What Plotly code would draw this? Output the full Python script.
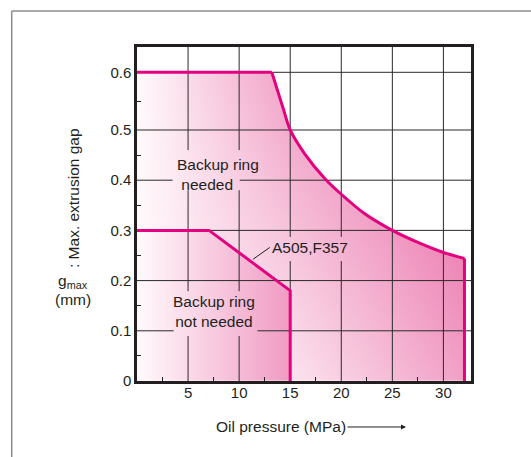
import numpy as np
import plotly.graph_objects as go

# ---------------- data ----------------
pressure_upper = [0, 13.2, 13.8, 14.3, 15, 16.4, 18.4, 20, 22.3, 25, 27.5, 30, 32.06]
gap_upper = [0.6, 0.6, 0.566, 0.538, 0.5, 0.453, 0.403, 0.372, 0.333, 0.300, 0.276, 0.256, 0.244]
pressure_lower = [0, 7.05, 15]
gap_lower = [0.3, 0.3, 0.18]
x_ticks = [5, 10, 15, 20, 25, 30]
x_minor = [2.5, 7.5, 12.5, 17.5, 22.5, 27.5]
y_ticks = [0, 0.1, 0.2, 0.3, 0.4, 0.5, 0.6]
y_tick_labels = ["0", "0.1", "0.2", "0.3", "0.4", "0.5", "0.6"]
y_minor = [0.05, 0.15, 0.25, 0.35, 0.45, 0.55]

# ---------------- style ----------------
PINK = "#e4007f"
INK = "#231f20"
FONT = "Liberation Sans, Arial, Helvetica, sans-serif"
X_MAX = 32.7


def ydisp(v):
    """The printed chart stretches the 0.5-0.6 band slightly; reproduce that scale."""
    v = np.asarray(v, dtype=float)
    return np.where(v <= 0.5, v, 0.5 + (v - 0.5) * 1.149)


Y_MAX = 0.6653

fig = go.Figure()

# ---------------- gradient fills (heatmap masked to the regions) ----------------
xs = np.arange(0.05, X_MAX, 0.1)
ys = np.arange(0.001, Y_MAX, 0.002)
X, Y = np.meshgrid(xs, ys)
up_d = ydisp(gap_upper)
upper = np.interp(X, pressure_upper, up_d)
low_line = np.interp(X, pressure_lower, gap_lower)
x_end = pressure_upper[-1]
x_low_end = pressure_lower[-1]
lower = np.where(X <= x_low_end, low_line, 0.0)

Z = np.full(X.shape, np.nan)
band = (X <= x_end) & (Y <= upper) & (Y >= lower)
t_band = np.minimum(1, X / 15) * (0.2 + Y) + np.maximum(0, (X - 15) / 17) * 0.6
Z[band] = np.clip(t_band[band], 0, 1)
regA = (X <= x_low_end) & (Y < low_line)
Z[regA] = 0.85 * X[regA] / x_low_end

fig.add_trace(go.Heatmap(
    x=xs, y=ys, z=Z, zmin=0, zmax=1, showscale=False, hoverinfo="skip",
    colorscale=[[0, "#fffafc"], [1, "#ee8ab9"]], zsmooth=False,
))

# ---------------- grid lines (with gaps around the labels) ----------------
gap_rects = [  # x0, x1, y0, y1 (display units)
    (3.30, 12.20, 0.406, 0.460),
    (3.49, 10.06, 0.380, 0.416),
    (3.00, 12.20, 0.129, 0.179),
    (3.59, 11.80, 0.0896, 0.137),
    (12.79, 21.0, 0.239, 0.287),
]


def cut(lo, hi, holes):
    segs = [(lo, hi)]
    for a, b in holes:
        new = []
        for s, e in segs:
            if b <= s or a >= e:
                new.append((s, e))
            else:
                if a > s:
                    new.append((s, a))
                if b < e:
                    new.append((b, e))
        segs = new
    return segs


gx, gy = [], []
for v in x_ticks:
    holes = [(r[2], r[3]) for r in gap_rects if r[0] <= v <= r[1]]
    for s, e in cut(0, Y_MAX, holes):
        gx += [v, v, None]
        gy += [s, e, None]
for v in y_ticks[1:]:
    yd = float(ydisp(v))
    holes = [(r[0], r[1]) for r in gap_rects if r[2] <= yd <= r[3]]
    for s, e in cut(0, X_MAX, holes):
        gx += [s, e, None]
        gy += [yd, yd, None]
fig.add_trace(go.Scatter(x=gx, y=gy, mode="lines", line=dict(color="#2a2a2a", width=1),
                         hoverinfo="skip", showlegend=False))

# ---------------- boundary lines ----------------
fig.add_trace(go.Scatter(x=pressure_upper[:2], y=ydisp(gap_upper[:2]), mode="lines",
                         line=dict(color=PINK, width=3), hoverinfo="skip", showlegend=False))
fig.add_trace(go.Scatter(x=pressure_upper[1:], y=ydisp(gap_upper[1:]), mode="lines",
                         line=dict(color=PINK, width=3, shape="spline", smoothing=0.8),
                         hoverinfo="skip", showlegend=False))
fig.add_trace(go.Scatter(x=[x_end, x_end], y=[float(ydisp(gap_upper[-1])), 0], mode="lines",
                         line=dict(color=PINK, width=3), hoverinfo="skip", showlegend=False))
fig.add_trace(go.Scatter(x=pressure_lower + [x_low_end], y=list(ydisp(gap_lower)) + [0], mode="lines",
                         line=dict(color=PINK, width=3), hoverinfo="skip", showlegend=False))

# ---------------- annotations ----------------
tf = dict(family=FONT, size=15.5, color=INK)
ann = [
    dict(x=3.75, y=0.412, xref="x", yref="y", text="Backup ring<br> needed", showarrow=False,
         font=tf, align="left", xanchor="left", yanchor="middle"),
    dict(x=7.55, y=0.139, xref="x", yref="y", text="Backup ring<br>not needed", showarrow=False,
         font=tf, align="center", xanchor="center", yanchor="middle"),
    dict(x=11.35, y=0.2424, xref="x", yref="y", ax=13.0, ay=0.266, axref="x", ayref="y",
         text="A505,F357", showarrow=True, arrowhead=0, arrowwidth=1, arrowcolor=INK,
         xanchor="left", yanchor="middle", font=tf, standoff=0, startstandoff=0),
    # x-axis title with its arrow pointing right
    dict(x=0.8054, y=-0.1377, xref="paper", yref="paper", text="Oil pressure (MPa)",
         showarrow=True, ax=-125, ay=0, axref="pixel", ayref="pixel",
         arrowhead=2, arrowsize=1, arrowwidth=1, arrowcolor=INK,
         xanchor="center", yanchor="middle", font=tf),
    dict(x=-0.1916, y=0.5479, xref="paper", yref="paper", text=": Max. extrusion gap",
         textangle=-90, showarrow=False, font=tf, xanchor="center", yanchor="middle"),
    dict(x=-0.1916, y=0.2994, xref="paper", yref="paper", text="g<sub>max</sub>",
         showarrow=False, font=tf, xanchor="center", yanchor="middle"),
    dict(x=-0.1916, y=0.2455, xref="paper", yref="paper", text="(mm)",
         showarrow=False, font=tf, xanchor="center", yanchor="middle"),
]

shapes = [
    dict(type="line", xref="paper", yref="paper", x0=-0.3751, x1=1.3, y0=1.1078, y1=1.1078,
         line=dict(color="#8c8c8c", width=1.5)),
    dict(type="line", xref="paper", yref="paper", x0=-0.3751, x1=-0.3751, y0=1.1078, y1=-0.3,
         line=dict(color="#8c8c8c", width=1.5)),
]

fig.update_layout(
    width=531, height=457,
    margin=dict(l=137, r=60, t=47, b=76),
    paper_bgcolor="white", plot_bgcolor="white",
    font=dict(family=FONT, color=INK, size=15),
    showlegend=False,
    annotations=ann, shapes=shapes,
    xaxis=dict(range=[0, X_MAX], showgrid=False, zeroline=False, tickmode="array",
               tickvals=x_ticks, ticktext=[str(v) for v in x_ticks], ticks="",
               showline=True, mirror=True, linecolor=INK, linewidth=2.5,
               ticklabelstandoff=-4, fixedrange=True,
               tickfont=dict(family=FONT, size=15, color=INK),
               minor=dict(tickmode="array", tickvals=x_minor, ticks="inside", ticklen=4,
                          tickcolor=INK, tickwidth=1, showgrid=False)),
    yaxis=dict(range=[0, Y_MAX], showgrid=False, zeroline=False, tickmode="array",
               tickvals=list(ydisp(y_ticks)), ticktext=y_tick_labels, ticks="",
               showline=True, mirror=True, linecolor=INK, linewidth=2.5, fixedrange=True,
               tickfont=dict(family=FONT, size=15, color=INK),
               minor=dict(tickmode="array", tickvals=list(ydisp(y_minor)), ticks="inside",
                          ticklen=4, tickcolor=INK, tickwidth=1, showgrid=False)),
)

fig.write_html("out.html", config={"displayModeBar": False},
               post_script="document.body.style.margin='0px';")
